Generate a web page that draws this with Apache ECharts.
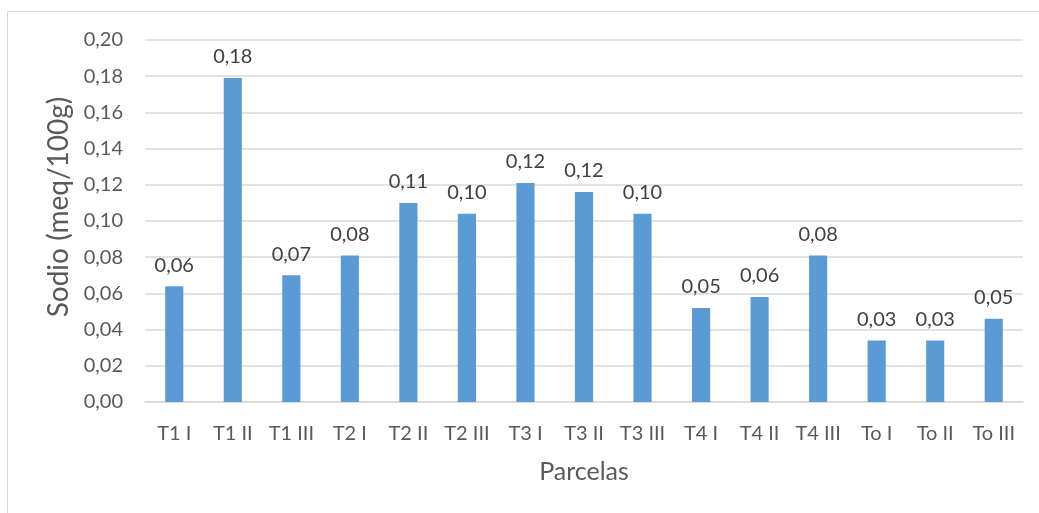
<!DOCTYPE html>
<html>
<head>
<meta charset="utf-8">
<script src="https://cdn.jsdelivr.net/npm/echarts@6/dist/echarts.min.js"></script>
<style>html,body{margin:0;padding:0;background:#fff}#c{width:1039px;height:513px}</style>
</head>
<body>
<div id="c"></div>
<script>
const categories = ['T1 I','T1 II','T1 III','T2 I','T2 II','T2 III','T3 I','T3 II','T3 III','T4 I','T4 II','T4 III','To I','To II','To III'];
const sodio = [0.064, 0.179, 0.070, 0.081, 0.110, 0.104, 0.121, 0.116, 0.104, 0.052, 0.058, 0.081, 0.034, 0.034, 0.046];
const yTicks = { min: 0, max: 0.2, interval: 0.02 };
const fnt = 'Lato, "Open Sans", sans-serif';
const fmt = v => v.toFixed(2).replace('.', ',');

const chart = echarts.init(document.getElementById('c'), null, {renderer: 'canvas'});
chart.setOption({
  animation: false,
  graphic: [{
    type: 'rect', shape: {x: 7.5, y: 11.5, width: 1100, height: 600},
    style: {fill: 'none', stroke: '#d9d9d9', lineWidth: 1}, silent: true, z: -1
  }],
  grid: {left: 145, right: 16, top: 40, bottom: 111, containLabel: false},
  xAxis: {
    type: 'category', data: categories,
    axisLine: {lineStyle: {color: '#d9d9d9', width: 1.5}},
    axisTick: {show: false},
    axisLabel: {color: '#595959', fontSize: 20, fontFamily: fnt, margin: 22, interval: 0},
    name: 'Parcelas', nameLocation: 'middle', nameGap: 57,
    nameTextStyle: {color: '#595959', fontSize: 25, fontFamily: fnt}
  },
  yAxis: {
    type: 'value', min: yTicks.min, max: yTicks.max, interval: yTicks.interval,
    axisLine: {show: false}, axisTick: {show: false},
    splitLine: {lineStyle: {color: '#d9d9d9', width: 1.5}},
    axisLabel: {color: '#595959', fontSize: 20, fontFamily: fnt, margin: 22, formatter: fmt},
    name: 'Sodio (meq/100g)', nameLocation: 'middle', nameGap: 68,
    nameTextStyle: {color: '#595959', fontSize: 28, fontFamily: fnt, padding: [0, 0, 0, 28]}
  },
  series: [{
    type: 'bar', data: sodio, barWidth: '31%',
    itemStyle: {color: '#5b9bd5'},
    label: {show: true, position: 'top', distance: 11, color: '#404040', fontSize: 20, fontFamily: fnt,
      formatter: p => fmt(p.value)}
  }]
});
</script>
</body>
</html>
